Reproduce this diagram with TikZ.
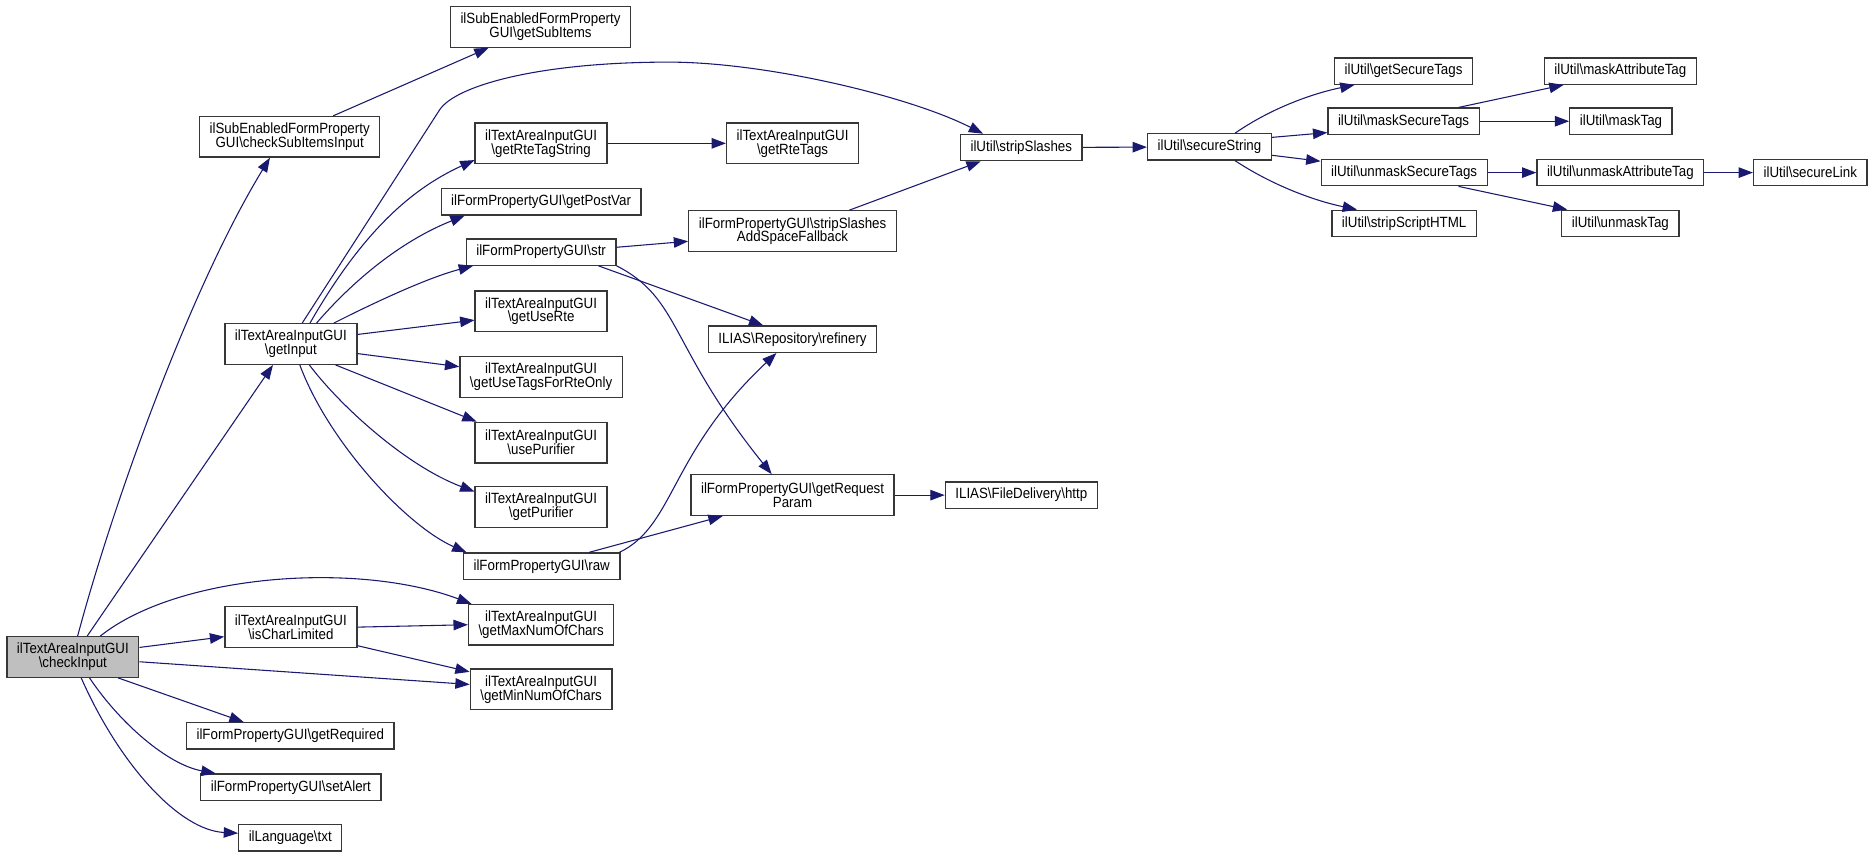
\documentclass[tikz,border=0pt]{standalone}
\usepackage{fontspec}
\setmainfont{Liberation Sans}[FakeStretch=0.9]
\usetikzlibrary{arrows.meta,calc}
\definecolor{edgeblue}{RGB}{25,25,112}
\definecolor{boxgray}{RGB}{55,55,55}
\definecolor{curfill}{RGB}{191,191,191}
\newcommand{\bsl}{\textbackslash}

\begin{document}
\begin{tikzpicture}[x=0.5pt,y=-0.5pt,
  fn/.style={draw=boxgray,fill=white,line width=0.55pt,inner xsep=4.2pt,inner ysep=0pt,align=center,font=\fontsize{6.2}{5.8}\selectfont},
  one/.style={fn,minimum height=11pt},
  two/.style={fn,minimum height=17pt},
  call/.style={draw=edgeblue,line width=0.45pt,-{Triangle[length=6pt,width=4.4pt]}}]
\useasboundingbox (0,0) rectangle (1568,717);
\node[two,fill=curfill] (ci) at (61,550) {ilTextAreaInputGUI\\\bsl checkInput};
\node[two] (csi) at (242.5,114.5) {ilSubEnabledFormProperty\\GUI\bsl checkSubItemsInput};
\node[two] (gsi) at (452.5,22.5) {ilSubEnabledFormProperty\\GUI\bsl getSubItems};
\node[two] (gi) at (243.5,288) {ilTextAreaInputGUI\\\bsl getInput};
\node[two] (ic) at (243.5,525) {ilTextAreaInputGUI\\\bsl isCharLimited};
\node[one] (greq) at (243,616) {ilFormPropertyGUI\bsl getRequired};
\node[one] (sal) at (243.5,659) {ilFormPropertyGUI\bsl setAlert};
\node[one] (txt) at (243,701.5) {ilLanguage\bsl txt};
\node[two] (grts) at (453,120) {ilTextAreaInputGUI\\\bsl getRteTagString};
\node[one] (gpv) at (453,169) {ilFormPropertyGUI\bsl getPostVar};
\node[one] (str) at (453,211) {ilFormPropertyGUI\bsl str};
\node[two] (gur) at (453,260.5) {ilTextAreaInputGUI\\\bsl getUseRte};
\node[two] (gut) at (453,315.5) {ilTextAreaInputGUI\\\bsl getUseTagsForRteOnly};
\node[two] (upu) at (453,370.5) {ilTextAreaInputGUI\\\bsl usePurifier};
\node[two] (gpu) at (453,424.5) {ilTextAreaInputGUI\\\bsl getPurifier};
\node[one] (raw) at (453.5,474) {ilFormPropertyGUI\bsl raw};
\node[two] (gmax) at (453,523) {ilTextAreaInputGUI\\\bsl getMaxNumOfChars};
\node[two] (gmin) at (453,577) {ilTextAreaInputGUI\\\bsl getMinNumOfChars};
\node[two] (grt) at (663.5,120) {ilTextAreaInputGUI\\\bsl getRteTags};
\node[two] (fb) at (663.5,193.5) {ilFormPropertyGUI\bsl stripSlashes\\AddSpaceFallback};
\node[one] (ref) at (663.5,284) {ILIAS\bsl Repository\bsl refinery};
\node[two] (grp) at (663.5,414.5) {ilFormPropertyGUI\bsl getRequest\\Param};
\node[one] (ss) at (855,123.5) {ilUtil\bsl stripSlashes};
\node[one] (http) at (855,414.5) {ILIAS\bsl FileDelivery\bsl http};
\node[one] (sec) at (1012.5,123) {ilUtil\bsl secureString};
\node[one] (gst) at (1175,59.5) {ilUtil\bsl getSecureTags};
\node[one] (mst) at (1175,101.5) {ilUtil\bsl maskSecureTags};
\node[one] (umst) at (1175.5,144.5) {ilUtil\bsl unmaskSecureTags};
\node[one] (ssh) at (1175.5,187) {ilUtil\bsl stripScriptHTML};
\node[one] (mat) at (1356.5,59.5) {ilUtil\bsl maskAttributeTag};
\node[one] (mt) at (1357,101.5) {ilUtil\bsl maskTag};
\node[one] (umat) at (1356.5,144.5) {ilUtil\bsl unmaskAttributeTag};
\node[one] (umt) at (1356.5,187) {ilUtil\bsl unmaskTag};
\node[one] (sl) at (1515.5,144.5) {ilUtil\bsl secureLink};
\draw[call] ($(ci.north)+(4,0)$) .. controls (95,420) and (160,240) .. ($(csi.south)+(-16.5,0)$);
\draw[call] ($(ci.north)+(12,0)$) -- ($(gi.south)+(-15,0)$);
\draw[call] ($(ci.north)+(23,0)$) .. controls (150,480) and (300,470) .. ($(gmax.north west)+(3,0)$);
\draw[call] ($(ci.east)+(0,-8)$) -- ($(ic.west)+(0,8)$);
\draw[call] ($(ci.east)+(0,4)$) -- ($(gmin.west)+(0,-4)$);
\draw[call] ($(ci.south)+(38,0)$) -- ($(greq.north)+(-39,0)$);
\draw[call] ($(ci.south)+(14,0)$) .. controls (100,605) and (140,640) .. ($(sal.north)+(-63,0)$);
\draw[call] ($(ci.south)+(7,0)$) .. controls (100,640) and (150,695) .. ($(txt.west)+(0,-4)$);
\draw[call] ($(csi.north)+(36.5,0)$) -- ($(gsi.south)+(-43.5,0)$);
\draw[call] ($(gi.north)+(9.5,0)$) -- (368,92) .. controls (381,72) and (450,52) .. (560,52) .. controls (640,52) and (760,80) .. ($(ss.north)+(-32,0)$);
\draw[call] ($(gi.north)+(16,0)$) .. controls (300,200) and (340,160) .. ($(grts.west)+(0,14)$);
\draw[call] ($(gi.north)+(21.5,0)$) .. controls (300,230) and (340,200) .. ($(gpv.south)+(-64,0)$);
\draw[call] ($(gi.north)+(36,0)$) .. controls (320,250) and (360,232) .. ($(str.south)+(-57,0)$);
\draw[call] ($(gi.east)+(0,-8)$) -- ($(gur.west)+(0,7.5)$);
\draw[call] ($(gi.east)+(0,8)$) -- ($(gut.west)+(0,-8.5)$);
\draw[call] ($(gi.south)+(37.5,0)$) -- ($(upu.north)+(-54,0)$);
\draw[call] ($(gi.south)+(15.5,0)$) .. controls (285,340) and (340,390) .. ($(gpu.west)+(0,-13)$);
\draw[call] ($(gi.south)+(7.5,0)$) .. controls (275,370) and (340,440) .. ($(raw.north west)+(3,0)$);
\draw[call] (ic.east) -- (gmax.west);
\draw[call] ($(ic.south east)+(0,-2)$) -- ($(gmin.north west)+(0,3)$);
\draw[call] (grts) -- (grt);
\draw[call] ($(str.east)+(0,-4)$) -- ($(fb.west)+(0,8.5)$);
\draw[call] ($(str.south)+(48,0)$) -- ($(ref.north)+(-24.5,0)$);
\draw[call] (str.south east) .. controls (570,250) and (560,290) .. ($(grp.north)+(-17.5,0)$);
\draw[call] ($(raw.north east)+(-1,0)$) .. controls (565,440) and (560,380) .. ($(ref.south)+(-13.5,0)$);
\draw[call] ($(raw.north)+(39.5,0)$) -- ($(grp.south)+(-58.5,0)$);
\draw[call] ($(fb.north)+(47.5,0)$) -- ($(ss.south)+(-34,0)$);
\draw[call] (ss) -- (sec);
\draw[call] (grp) -- (http);
\draw[call] ($(sec.north)+(21.5,0)$) .. controls (1065,90) and (1100,78) .. ($(gst.south)+(-41,0)$);
\draw[call] ($(sec.east)+(0,-8)$) -- ($(mst.west)+(0,9.5)$);
\draw[call] ($(sec.east)+(0,7)$) -- ($(umst.west)+(0,-9.5)$);
\draw[call] ($(sec.south)+(21.5,0)$) .. controls (1065,155) and (1100,168) .. ($(ssh.north)+(-39.5,0)$);
\draw[call] ($(mst.north)+(46,0)$) -- ($(mat.south)+(-47.5,0)$);
\draw[call] (mst) -- (mt);
\draw[call] (umst) -- (umat);
\draw[call] ($(umst.south)+(45.5,0)$) -- ($(umt.north)+(-44.5,0)$);
\draw[call] (umat) -- (sl);
\end{tikzpicture}
\end{document}
